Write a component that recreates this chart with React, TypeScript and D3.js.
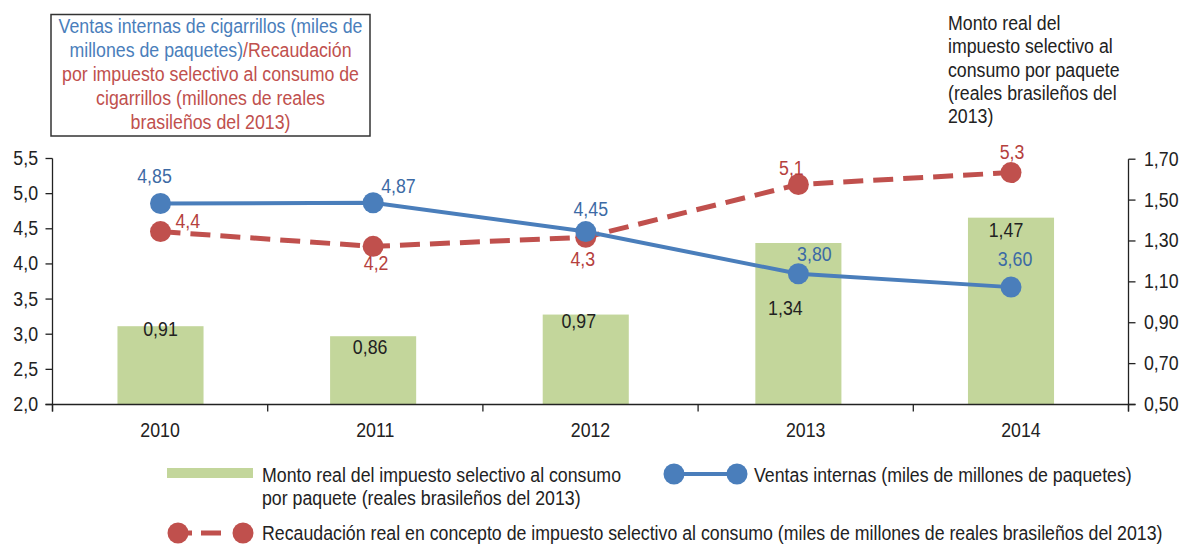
import React from "react";
import * as d3 from "d3";

const years = ["2010", "2011", "2012", "2013", "2014"];
const ventas = [4.86, 4.87, 4.46, 3.86, 3.67];
const ventasLabels = ["4,85", "4,87", "4,45", "3,80", "3,60"];
const recaudacion = [4.46, 4.25, 4.38, 5.13, 5.3];
const recaudacionLabels = ["4,4", "4,2", "4,3", "5,1", "5,3"];
const montoPaquete = [0.883, 0.834, 0.94, 1.29, 1.414];
const montoLabels = ["0,91", "0,86", "0,97", "1,34", "1,47"];
const leftTicks = [2.0, 2.5, 3.0, 3.5, 4.0, 4.5, 5.0, 5.5];
const rightTicks = [0.5, 0.7, 0.9, 1.1, 1.3, 1.5, 1.7];

const FONT = "'Liberation Sans', Arial, sans-serif";
const BLUE = "#4a7ebb";
const BLUE_TXT = "#3c6aa5";
const RED = "#c0504d";
const RED_TXT = "#b5403d";
const GREEN = "#c3d69b";
const INK = "#222";
const FS = 19.3;
const SX = 0.92;

// label placement (relative to marks)
const blueOff = [
  { dx: -6, dy: -20, a: "middle" },
  { dx: 8, dy: -10, a: "start" },
  { dx: 5, dy: -16, a: "middle" },
  { dx: 16, dy: -13, a: "middle" },
  { dx: 4, dy: -21, a: "middle" },
];
const redOff = [
  { dx: 15, dy: -4, a: "start" },
  { dx: 3, dy: 24, a: "middle" },
  { dx: -3, dy: 29, a: "middle" },
  { dx: -7, dy: -10, a: "middle" },
  { dx: 1, dy: -14, a: "middle" },
];
const barOff = [
  { dx: 0, dy: 10 },
  { dx: -3, dy: 18 },
  { dx: -7, dy: 13 },
  { dx: -13, dy: 72 },
  { dx: -5, dy: 19 },
];

const fmt = (d: number, n: number) => d3.format(`.${n}f`)(d).replace(".", ",");

function T(props: { x: number; y: number; anchor?: string; fill?: string; children: React.ReactNode }) {
  const { x, y, anchor = "start", fill = INK, children } = props;
  return (
    <text transform={`translate(${x},${y}) scale(${SX},1)`} textAnchor={anchor} fill={fill} fontSize={FS}>
      {children}
    </text>
  );
}

export default function App() {
  const W = 1187, H = 544;
  const left = 52.5, right = 1128.5, top = 158.5, bottom = 404.5;
  const xAxis = d3.scaleBand<string>().domain(years).range([left, right]).padding(0);
  const xMark = d3.scalePoint<string>().domain(years).range([160.5, 1011]);
  const yL = d3.scaleLinear().domain([2, 5.5]).range([bottom, top]);
  const yR = d3.scaleLinear().domain([0.5, 1.7]).range([bottom, 159.2]);
  const barW = xAxis.bandwidth() * 0.4;

  const lineV = d3.line<number>().x((_, i) => xMark(years[i])!).y((d) => yL(d));

  const boundaries = years.map((y) => xAxis(y)!).concat([right]);

  return (
    <div style={{ position: "absolute", left: 0, top: 0 }}>
      <svg width={W} height={H} style={{ display: "block", fontFamily: FONT }}>
        <rect width={W} height={H} fill="#fff" />
        {/* title box */}
        <rect x={51} y={14.5} width={319} height={121.5} fill="none" stroke="#333" strokeWidth={1.5} />
        <T x={210.5} y={33} anchor="middle" fill={BLUE}>Ventas internas de cigarrillos (miles de</T>
        <T x={210.5} y={57} anchor="middle">
          <tspan fill={BLUE}>millones de paquetes)</tspan>
          <tspan fill={RED}>/Recaudación</tspan>
        </T>
        <T x={210.5} y={81} anchor="middle" fill={RED}>por impuesto selectivo al consumo de</T>
        <T x={210.5} y={105} anchor="middle" fill={RED}>cigarrillos (millones de reales</T>
        <T x={210.5} y={129} anchor="middle" fill={RED}>brasileños del 2013)</T>
        {["Monto real del", "impuesto selectivo al", "consumo por paquete", "(reales brasileños del", "2013)"].map((t, i) => (
          <T key={i} x={948} y={30 + i * 23.3}>{t}</T>
        ))}

        {/* bars */}
        {montoPaquete.map((v, i) => (
          <rect key={i} x={xMark(years[i])! - barW / 2} y={yR(v)} width={barW} height={bottom - yR(v)} fill={GREEN} />
        ))}

        {/* axes */}
        <g stroke={INK} strokeWidth={1.3} fill="none">
          <line x1={left} x2={left} y1={top} y2={bottom + 7} />
          <line x1={right} x2={right} y1={yR(1.7)} y2={bottom + 7} />
          <line x1={left - 7} x2={right + 7} y1={bottom} y2={bottom} />
          {leftTicks.map((t) => (
            <line key={t} x1={left - 7} x2={left} y1={yL(t)} y2={yL(t)} />
          ))}
          {rightTicks.map((t) => (
            <line key={t} x1={right} x2={right + 7} y1={yR(t)} y2={yR(t)} />
          ))}
          {boundaries.map((b, i) => (
            <line key={i} x1={b} x2={b} y1={bottom} y2={bottom + 7} />
          ))}
        </g>
        {leftTicks.map((t) => (
          <T key={t} x={38} y={yL(t) + 6.5} anchor="end">{fmt(t, 1)}</T>
        ))}
        {rightTicks.map((t) => (
          <T key={t} x={1144} y={yR(t) + 6.5}>{fmt(t, 2)}</T>
        ))}
        {years.map((y) => (
          <T key={y} x={xAxis(y)! + xAxis.bandwidth() / 2} y={437} anchor="middle">{y}</T>
        ))}

        {/* lines */}
        <path d={lineV(recaudacion) ?? ""} fill="none" stroke={RED} strokeWidth={5} strokeDasharray="20 10" />
        <path d={lineV(ventas) ?? ""} fill="none" stroke={BLUE} strokeWidth={4} />
        {recaudacion.map((v, i) => (
          <circle key={i} cx={xMark(years[i])!} cy={yL(v)} r={10.5} fill={RED} />
        ))}
        {ventas.map((v, i) => (
          <circle key={i} cx={xMark(years[i])!} cy={yL(v)} r={10.5} fill={BLUE} />
        ))}

        {/* data labels */}
        {montoLabels.map((l, i) => (
          <T key={"b" + i} x={xMark(years[i])! + barOff[i].dx} y={yR(montoPaquete[i]) + barOff[i].dy} anchor="middle">{l}</T>
        ))}
        {recaudacionLabels.map((l, i) => (
          <T key={"r" + i} x={xMark(years[i])! + redOff[i].dx} y={yL(recaudacion[i]) + redOff[i].dy} anchor={redOff[i].a} fill={RED_TXT}>{l}</T>
        ))}
        {ventasLabels.map((l, i) => (
          <T key={"v" + i} x={xMark(years[i])! + blueOff[i].dx} y={yL(ventas[i]) + blueOff[i].dy} anchor={blueOff[i].a} fill={BLUE_TXT}>{l}</T>
        ))}

        {/* legend */}
        <rect x={167} y={468} width={86} height={10} fill={GREEN} />
        <T x={262} y={482}>Monto real del impuesto selectivo al consumo</T>
        <T x={262} y={505}>por paquete (reales brasileños del 2013)</T>
        <T x={754} y={482}>Ventas internas (miles de millones de paquetes)</T>
        <T x={262} y={540}>Recaudación real en concepto de impuesto selectivo al consumo (miles de millones de reales brasileños del 2013)</T>
        <line x1={674} x2={737} y1={474} y2={474} stroke={BLUE} strokeWidth={4} />
        <circle cx={674} cy={474} r={10.5} fill={BLUE} />
        <circle cx={737} cy={474} r={10.5} fill={BLUE} />
        <line x1={178} x2={243} y1={533} y2={533} stroke={RED} strokeWidth={5} strokeDasharray="12 9 20 30" strokeDashoffset={-2} />
        <circle cx={178} cy={533} r={10.5} fill={RED} />
        <circle cx={243} cy={533} r={10.5} fill={RED} />
      </svg>
    </div>
  );
}
